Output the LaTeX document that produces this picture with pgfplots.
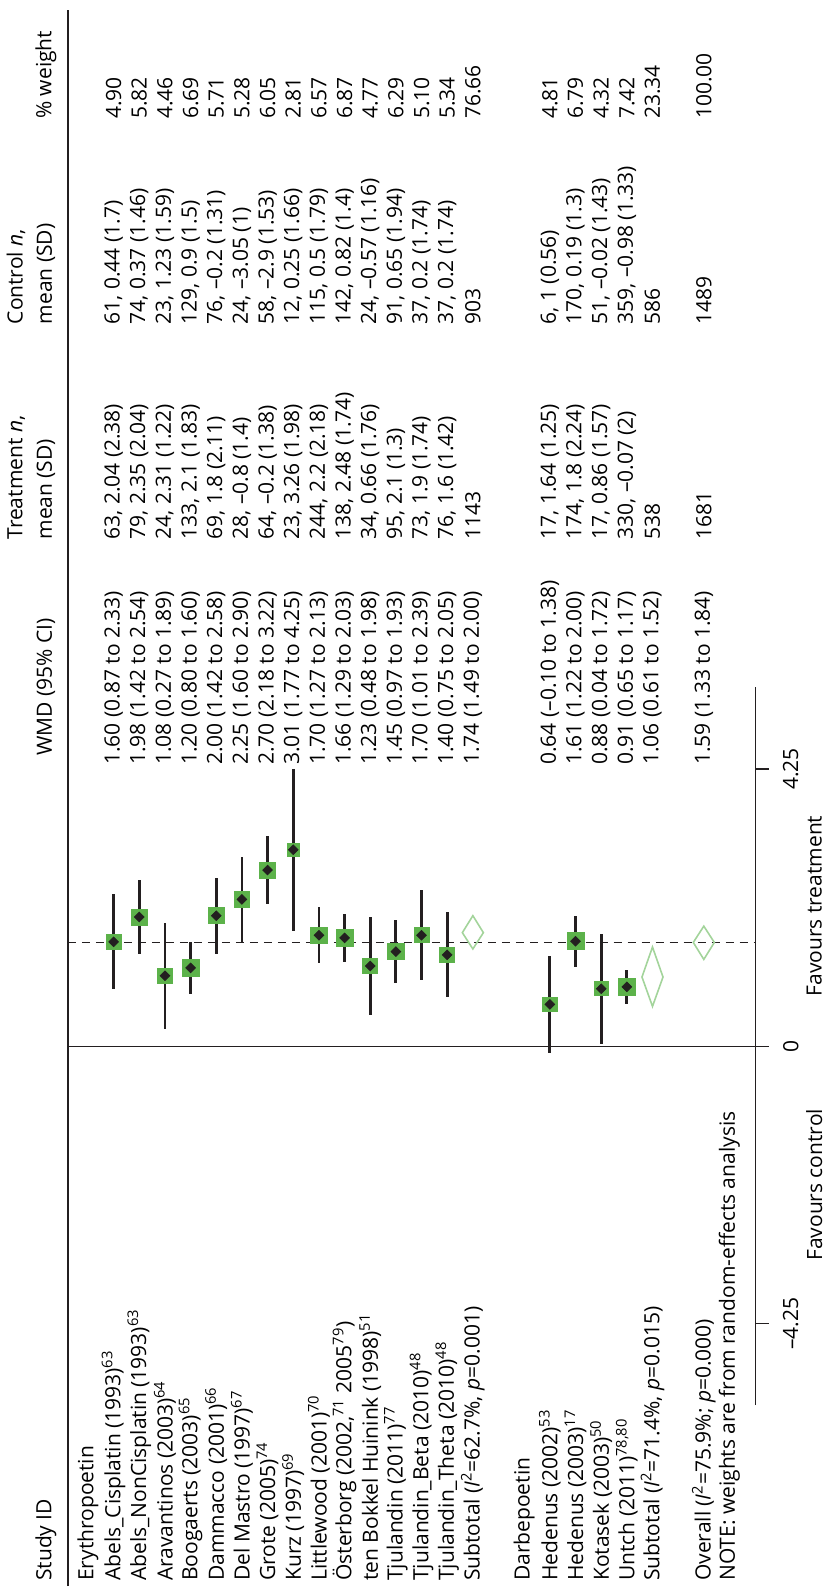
\documentclass[border=0pt]{standalone}
\usepackage{pgfplots}
\pgfplotsset{compat=1.18}
\usepackage{pgfplotstable}
\usepackage{fontspec}
\setmainfont{Open Sans}
\definecolor{sqgreen}{RGB}{92,178,74}
\definecolor{dmgreen}{RGB}{163,212,155}
\definecolor{ln}{RGB}{35,31,32}
\newcommand\fs{\fontsize{10.5}{13}\selectfont}
\tikzset{txt/.style={rotate=90,anchor=west,inner sep=0pt,font=\fs}}

\pgfplotstableread{
k  e     lo     hi    w
1  1.60  0.87   2.33  4.90
2  1.98  1.42   2.54  5.82
3  1.08  0.27   1.89  4.46
4  1.20  0.80   1.60  6.69
5  2.00  1.42   2.58  5.71
6  2.25  1.60   2.90  5.28
7  2.70  2.18   3.22  6.05
8  3.01  1.77   4.25  2.81
9  1.70  1.27   2.13  6.57
10 1.66  1.29   2.03  6.87
11 1.23  0.48   1.98  4.77
12 1.45  0.97   1.93  6.29
13 1.70  1.01   2.39  5.10
14 1.40  0.75   2.05  5.34
18 0.64  -0.10  1.38  4.81
19 1.61  1.22   2.00  6.79
20 0.88  0.04   1.72  4.32
21 0.91  0.65   1.17  7.42
}\studies

\newcommand\R[6]{%
  \node[txt] at (axis cs:#1,-8.20) {#2};
  \node[txt] at (axis cs:#1,4.31) {#3};
  \node[txt] at (axis cs:#1,7.76) {#4};
  \node[txt] at (axis cs:#1,11.06) {#5};
  \node[txt] at (axis cs:#1,14.21) {#6};}

\begin{document}
\begin{tikzpicture}[font=\fs]
\begin{axis}[
  scale only axis, width=378pt, height=793.5pt,
  xmin=-3.428, xmax=26.02, ymin=-8.278, ymax=16.036,
  axis x line=none, axis y line*=right,
  y axis line style={draw=none},
  xtick=\empty,
  ytick={-4.25,0,4.25}, yticklabels={–4.25,0,4.25},
  tick align=outside, major tick length=6.5pt,
  ytick style={ln, line width=0.6pt},
  yticklabel style={rotate=90, anchor=north, inner sep=0pt, font=\fs},
  yticklabel shift=7pt,
  clip=false,
]
% bounding box of the whole page
\path (axis cs:-3.428,-8.278) rectangle (axis cs:28.79,16.036);

% header separator
\draw[ln, line width=0.75pt] (axis cs:-0.779,-8.278) -- (axis cs:-0.779,15.88);
% reference lines
\addplot[ln, line width=0.6pt] coordinates {(-0.779,0) (26.02,0)};
\addplot[ln, line width=0.6pt, dash pattern=on 4pt off 3pt] coordinates {(-0.779,1.59) (26.02,1.59)};
\addplot[ln, line width=0.6pt] coordinates {(26.02,-5.5) (26.02,5.5)};

% weighted squares
\addplot[only marks, mark=square*, scatter,
  scatter/use mapped color={draw=sqgreen, fill=sqgreen},
  point meta={\thisrow{w}},
  visualization depends on={(9.6+1.07*\thisrow{w})*0.25 \as \msz},
  scatter/@pre marker code/.append style={/tikz/mark size=\msz pt}]
  table[x=k, y=e] {\studies};

% confidence intervals and point estimates
\addplot[only marks, color=ln, mark=square*, mark size=1.7pt,
  mark options={rotate=45, draw=ln, fill=ln},
  error bars/.cd, y dir=both, y explicit, error mark=none,
  error bar style={line width=1.4pt, ln}]
  table[x=k, y=e, y error plus expr=\thisrow{hi}-\thisrow{e},
        y error minus expr=\thisrow{e}-\thisrow{lo}] {\studies};

% pooled diamonds
\addplot[dmgreen, line width=0.8pt, line join=miter] coordinates {(15,1.49) (15.41,1.74) (15,2.00) (14.59,1.74)} -- cycle;
\addplot[dmgreen, line width=0.8pt, line join=miter] coordinates {(22,0.61) (22.41,1.06) (22,1.52) (21.59,1.06)} -- cycle;
\addplot[dmgreen, line width=0.8pt, line join=miter] coordinates {(24,1.33) (24.41,1.59) (24,1.84) (23.59,1.59)} -- cycle;

% headers
\node[txt] at (axis cs:-1.64,-8.20) {Study ID};
\node[txt] at (axis cs:-1.64,4.45) {WMD (95\% CI)};
\node[txt] at (axis cs:-2.80,7.76) {Treatment \textit{n},};
\node[txt] at (axis cs:-1.64,7.76) {mean (SD)};
\node[txt] at (axis cs:-2.80,11.06) {Control \textit{n},};
\node[txt] at (axis cs:-1.64,11.06) {mean (SD)};
\node[txt] at (axis cs:-1.64,14.21) {\% weight};

% rows
\node[txt] at (axis cs:0,-8.20) {Erythropoetin};
\R{1}{Abels\_Cisplatin (1993)\textsuperscript{63}}{1.60 (0.87 to 2.33)}{63, 2.04 (2.38)}{61, 0.44 (1.7)}{4.90}
\R{2}{Abels\_NonCisplatin (1993)\textsuperscript{63}}{1.98 (1.42 to 2.54)}{79, 2.35 (2.04)}{74, 0.37 (1.46)}{5.82}
\R{3}{Aravantinos (2003)\textsuperscript{64}}{1.08 (0.27 to 1.89)}{24, 2.31 (1.22)}{23, 1.23 (1.59)}{4.46}
\R{4}{Boogaerts (2003)\textsuperscript{65}}{1.20 (0.80 to 1.60)}{133, 2.1 (1.83)}{129, 0.9 (1.5)}{6.69}
\R{5}{Dammacco (2001)\textsuperscript{66}}{2.00 (1.42 to 2.58)}{69, 1.8 (2.11)}{76, –0.2 (1.31)}{5.71}
\R{6}{Del Mastro (1997)\textsuperscript{67}}{2.25 (1.60 to 2.90)}{28, –0.8 (1.4)}{24, –3.05 (1)}{5.28}
\R{7}{Grote (2005)\textsuperscript{74}}{2.70 (2.18 to 3.22)}{64, –0.2 (1.38)}{58, –2.9 (1.53)}{6.05}
\R{8}{Kurz (1997)\textsuperscript{69}}{3.01 (1.77 to 4.25)}{23, 3.26 (1.98)}{12, 0.25 (1.66)}{2.81}
\R{9}{Littlewood (2001)\textsuperscript{70}}{1.70 (1.27 to 2.13)}{244, 2.2 (2.18)}{115, 0.5 (1.79)}{6.57}
\R{10}{Österborg (2002,\textsuperscript{71} 2005\textsuperscript{79})}{1.66 (1.29 to 2.03)}{138, 2.48 (1.74)}{142, 0.82 (1.4)}{6.87}
\R{11}{ten Bokkel Huinink (1998)\textsuperscript{51}}{1.23 (0.48 to 1.98)}{34, 0.66 (1.76)}{24, –0.57 (1.16)}{4.77}
\R{12}{Tjulandin (2011)\textsuperscript{77}}{1.45 (0.97 to 1.93)}{95, 2.1 (1.3)}{91, 0.65 (1.94)}{6.29}
\R{13}{Tjulandin\_Beta (2010)\textsuperscript{48}}{1.70 (1.01 to 2.39)}{73, 1.9 (1.74)}{37, 0.2 (1.74)}{5.10}
\R{14}{Tjulandin\_Theta (2010)\textsuperscript{48}}{1.40 (0.75 to 2.05)}{76, 1.6 (1.42)}{37, 0.2 (1.74)}{5.34}
\R{15}{Subtotal (\textit{I}\textsuperscript{2}=62.7\%, \textit{p}=0.001)}{1.74 (1.49 to 2.00)}{1143}{903}{76.66}
\node[txt] at (axis cs:17,-8.20) {Darbepoetin};
\R{18}{Hedenus (2002)\textsuperscript{53}}{0.64 (–0.10 to 1.38)}{17, 1.64 (1.25)}{6, 1 (0.56)}{4.81}
\R{19}{Hedenus (2003)\textsuperscript{17}}{1.61 (1.22 to 2.00)}{174, 1.8 (2.24)}{170, 0.19 (1.3)}{6.79}
\R{20}{Kotasek (2003)\textsuperscript{50}}{0.88 (0.04 to 1.72)}{17, 0.86 (1.57)}{51, –0.02 (1.43)}{4.32}
\R{21}{Untch (2011)\textsuperscript{78,80}}{0.91 (0.65 to 1.17)}{330, –0.07 (2)}{359, –0.98 (1.33)}{7.42}
\R{22}{Subtotal (\textit{I}\textsuperscript{2}=71.4\%, \textit{p}=0.015)}{1.06 (0.61 to 1.52)}{538}{586}{23.34}
\R{24}{Overall (\textit{I}\textsuperscript{2}=75.9\%; \textit{p}=0.000)}{1.59 (1.33 to 1.84)}{1681}{1489}{100.00}
\node[txt] at (axis cs:25,-8.20) {NOTE: weights are from random-effects analysis};

% axis captions
\node[rotate=90, font=\fs] at (axis cs:28.3,-2.125) {Favours control};
\node[rotate=90, font=\fs] at (axis cs:28.3,2.15) {Favours treatment};
\end{axis}
\end{tikzpicture}
\end{document}
